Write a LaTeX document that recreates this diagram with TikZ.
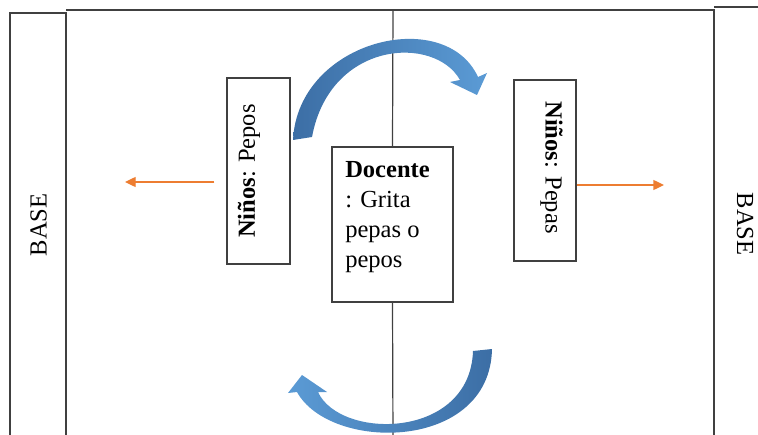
\documentclass[tikz,border=0pt]{standalone}
\usepackage{fontspec}
\setmainfont{Liberation Serif}
\usepackage{xcolor}
\usepackage{tikz}
\usetikzlibrary{arrows.meta}
\definecolor{orange}{RGB}{237,125,49}
\definecolor{lightblue}{RGB}{91,155,213}
\definecolor{darkblue}{RGB}{60,110,165}
\definecolor{linegray}{RGB}{64,64,64}

\begin{document}
\begin{tikzpicture}[x=0.75pt,y=0.75pt,yscale=-1,xscale=1,
  font=\fontsize{18.4}{22.5}\selectfont,
  box/.style={draw=linegray, line width=1.1pt, fill=white, inner sep=0pt},
  orangearrow/.style={draw=orange, line width=1pt, -{Triangle[length=8pt,width=7.5pt]}}]
\useasboundingbox (0,0) rectangle (758,435);

%Rectangle (left base)
\draw [linegray, line width=1.1pt] (10,440) -- (10,13) -- (66,13) -- (66,440) ;
%Rectangle (field)
\draw [linegray, line width=1.1pt] (66,10) -- (714,10) -- (714,440) ;
%Rectangle (right base)
\draw [linegray, line width=1.1pt] (714,7) -- (760,7) ;

%Coordinates
\coordinate (linetop) at (393,10) ;
\coordinate (linebot) at (393,440) ;
\coordinate (leftend) at (125,182) ;
\coordinate (rightend) at (664,185) ;

%Boxes
\draw (258.5,171) node [box, minimum width=47.25pt, minimum height=139.5pt] (pepos) {} ;
\draw (392.5,224.5) node [box, minimum width=90.75pt, minimum height=116.25pt] (docente) {} ;
\draw (545,170.5) node [box, minimum width=46.5pt, minimum height=135.75pt] (pepas) {} ;

%Straight Lines
\draw [linegray, line width=0.9pt] (linetop) -- (docente.north) ;
\draw [linegray, line width=0.9pt] (docente.south) -- (linebot) ;
%Straight Lines
\path (pepos.west |- leftend) ++(-12,0) coordinate (leftstart) ;
\draw [orangearrow] (leftstart) -- (leftend) ;
\draw [orangearrow] (pepas.east |- rightend) -- (rightend) ;

%Curve Lines (top arrow)
\shade [left color=darkblue, right color=lightblue] (293,140) .. controls (298,40) and (445,5) .. (478,77) -- (487,73) -- (477,95) -- (450,82) -- (460,80) .. controls (435,35) and (330,40) .. (312,137) -- cycle ;
%Curve Lines (bottom arrow)
\shade [left color=lightblue, right color=darkblue] (492,349) .. controls (490,452) and (330,452) .. (297,392) -- (288,393) -- (302,375) -- (327,392) -- (318,392) .. controls (340,440) and (470,440) .. (473,351) -- cycle ;

% Text Node
\draw (38.5,225) node [rotate=90][inner sep=0.75pt] (baseleft) {BASE} ;
% Text Node
\draw (745,224) node [rotate=-90][inner sep=0.75pt] (baseright) {BASE} ;
% Text Node
\draw (249,171) node [rotate=90][inner sep=0.75pt] (pepostxt) {\textbf{Niños}: Pepos} ;
% Text Node
\draw (551.5,167.5) node [rotate=-90][inner sep=0.75pt] (pepastxt) {\textbf{Niños}: Pepas} ;
% Text Node
\draw (345,161) node [anchor=north west][inner sep=0pt][align=left] (docentetxt) {\textbf{Docente}\\: Grita\\pepas o\\pepos} ;

\end{tikzpicture}
\end{document}
